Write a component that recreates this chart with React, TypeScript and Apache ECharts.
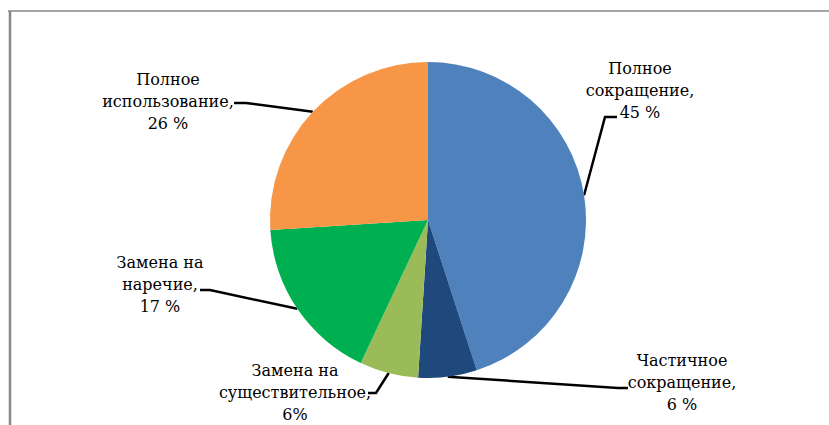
import React, { useEffect, useRef } from "react";
import * as echarts from "echarts";

const categories = [
  "Полное\nсокращение,\n45 %",
  "Частичное\nсокращение,\n6 %",
  "Замена на\nсуществительное,\n6%",
  "Замена на\nнаречие,\n17 %",
  "Полное\nиспользование,\n26 %",
];
const values = [45, 6, 6, 17, 26];
const colors = ["#4F81BD", "#1F497D", "#9BBB59", "#00B050", "#F79646"];

// label anchor (centre x, centre y) and callout bend / end points, in data order
const labelPos = [
  [640, 90],
  [682, 382],
  [295, 392],
  [160, 284],
  [168, 101],
];
const labelBends = [
  [[605, 117], [617, 117]],
  [[618, 388], [628, 388]],
  [[376, 393], [368, 393]],
  [[210, 290], [200, 290]],
  [[246, 103], [234, 103]],
];

export default function App() {
  const ref = useRef<HTMLDivElement>(null);
  useEffect(() => {
    const chart = echarts.init(ref.current!, null, { renderer: "svg" });
    chart.setOption({
      animation: false,
      backgroundColor: "#ffffff",
      graphic: [
        { type: "line", shape: { x1: 8, y1: 11, x2: 829, y2: 11 }, style: { stroke: "#888", lineWidth: 1.5 } },
        { type: "line", shape: { x1: 10, y1: 11, x2: 10, y2: 425 }, style: { stroke: "#888", lineWidth: 2.5 } },
      ],
      series: [
        {
          type: "pie",
          center: [428, 220],
          radius: 158,
          startAngle: 90,
          clockwise: true,
          data: values.map((v, i) => ({
            value: v,
            name: categories[i],
            itemStyle: { color: colors[i] },
          })),
          label: {
            show: true,
            position: "outside",
            formatter: "{b}",
            fontFamily: "DejaVu Serif",
            fontSize: 16,
            lineHeight: 22,
            color: "#000",
            align: "center",
          },
          labelLine: {
            show: true,
            lineStyle: { color: "#000", width: 2.5 },
          },
          labelLayout: (params: any) => {
            const i = params.dataIndex;
            const p0 = params.labelLinePoints ? params.labelLinePoints[0] : null;
            const out: any = {
              x: labelPos[i][0],
              y: labelPos[i][1],
              align: "center",
              verticalAlign: "middle",
            };
            if (p0) out.labelLinePoints = [p0, labelBends[i][0], labelBends[i][1]];
            return out;
          },
        },
      ],
    });
    return () => chart.dispose();
  }, []);
  return <div ref={ref} style={{ position: "absolute", left: 0, top: 0, width: 829, height: 425 }} />;
}
